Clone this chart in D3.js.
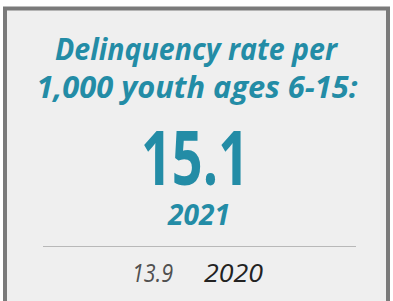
<!DOCTYPE html>
<html>
<head>
<meta charset="utf-8">
<script src="https://cdn.jsdelivr.net/npm/d3@7"></script>
<style>
html,body{margin:0;padding:0;background:#fff;}
svg{display:block;}
</style>
</head>
<body>
<svg id="chart" width="393" height="301"></svg>
<script>
const titleLines = ["Delinquency rate per", "1,000 youth ages 6-15:"];
const currentValue = [15.1];
const currentYear = ["2021"];
const previousValue = [13.9];
const previousYear = ["2020"];

const W = 393, H = 301;
const svg = d3.select("#chart");
const teal = "#238ca6";
const font = "'Open Sans', Lato, sans-serif";

// card
svg.append("rect")
  .attr("x", 5).attr("y", 8.5)
  .attr("width", 383).attr("height", 320)
  .attr("fill", "#efefef")
  .attr("stroke", "#7a7a7a").attr("stroke-width", 4);

const cx = 196;
const fmt = d3.format(".1f");

// title
const titleWidths = [282, 321];
svg.append("g").selectAll("text").data(titleLines).join("text")
  .attr("x", (d,i) => i === 0 ? cx : cx + 1)
  .attr("y", (d,i) => 60 + i * 38)
  .attr("text-anchor", "middle")
  .attr("font-family", font)
  .attr("font-weight", 700)
  .attr("font-style", "italic")
  .attr("font-size", 30)
  .attr("fill", teal)
  .attr("textLength", (d,i) => titleWidths[i])
  .attr("lengthAdjust", "spacingAndGlyphs")
  .text(d => d);

// big value
svg.append("text").datum(currentValue[0])
  .attr("x", cx - 1).attr("y", 185)
  .attr("text-anchor", "middle")
  .attr("font-family", font)
  .attr("font-weight", 700)
  .attr("font-size", 76)
  .attr("fill", teal)
  .attr("textLength", 108)
  .attr("lengthAdjust", "spacingAndGlyphs")
  .text(d => fmt(d));

// current year
svg.append("text").datum(currentYear[0])
  .attr("x", cx + 3).attr("y", 225)
  .attr("text-anchor", "middle")
  .attr("font-family", font)
  .attr("font-weight", 700)
  .attr("font-style", "italic")
  .attr("font-size", 29)
  .attr("fill", teal)
  .attr("textLength", 62)
  .attr("lengthAdjust", "spacingAndGlyphs")
  .text(d => d);

// divider
svg.append("line")
  .attr("x1", 43).attr("x2", 356)
  .attr("y1", 246.5).attr("y2", 246.5)
  .attr("stroke", "#b8b8b8").attr("stroke-width", 1);

// previous
svg.append("text").datum(previousValue[0])
  .attr("x", 132).attr("y", 282)
  .attr("font-family", font)
  .attr("font-weight", 400)
  .attr("font-style", "italic")
  .attr("font-size", 25)
  .attr("fill", "#505050")
  .attr("textLength", 41)
  .attr("lengthAdjust", "spacingAndGlyphs")
  .text(d => fmt(d));

svg.append("text").datum(previousYear[0])
  .attr("x", 204).attr("y", 282)
  .attr("font-family", font)
  .attr("font-weight", 400)
  .attr("font-style", "italic")
  .attr("font-size", 25)
  .attr("fill", "#222")
  .attr("textLength", 59)
  .attr("lengthAdjust", "spacingAndGlyphs")
  .text(d => d);
</script>
</body>
</html>
